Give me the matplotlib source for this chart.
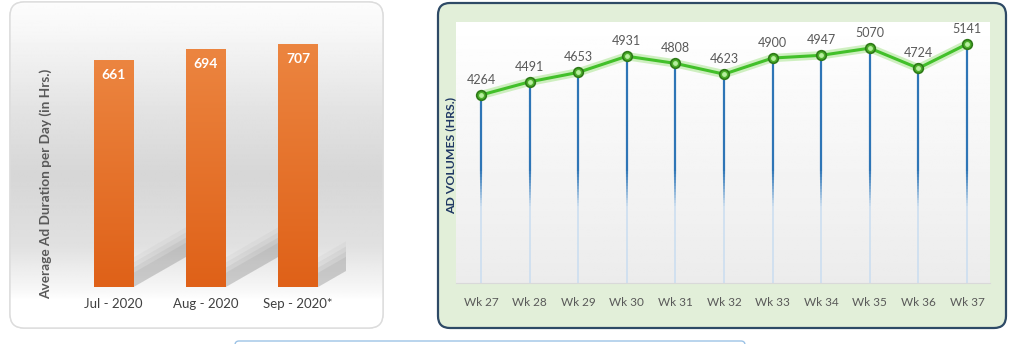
import numpy as np
import matplotlib.pyplot as plt
import matplotlib.colors as mcolors
from matplotlib.patches import FancyBboxPatch, Polygon

plt.rcParams["font.family"] = ["Lato", "DejaVu Sans"]

# ============================================================
# Dados
# ============================================================

meses = ["Jul - 2020", "Aug - 2020", "Sep - 2020*"]
duracao_media = [661, 694, 707]

semanas = ["Wk 27", "Wk 28", "Wk 29", "Wk 30", "Wk 31", "Wk 32",
           "Wk 33", "Wk 34", "Wk 35", "Wk 36", "Wk 37"]
volumes = [4264, 4491, 4653, 4931, 4808, 4623, 4900, 4947, 5070, 4724, 5141]

W, H = 1024, 344
fig = plt.figure(figsize=(W / 100, H / 100), dpi=100)


def eixo_px(esq, topo, dir, base):
    # eixo posicionado em pixels da figura
    return fig.add_axes([esq / W, 1 - base / H, (dir - esq) / W, (base - topo) / H])


# ============================================================
# Fundo: caixas arredondadas
# ============================================================

fundo = eixo_px(0, 0, W, H)
fundo.set_xlim(0, W)
fundo.set_ylim(H, 0)
fundo.axis("off")

caixa_esq = FancyBboxPatch((10, 2), 373, 326, boxstyle="round,pad=0,rounding_size=14",
                           fc="white", ec="#dcdcdc", lw=1, zorder=1)
fundo.add_patch(caixa_esq)

yy = np.arange(2, 329)
tons = np.interp(yy, [2, 30, 110, 175, 245, 290, 300, 329],
                 [0.99, 0.97, 0.89, 0.84, 0.88, 0.97, 1.0, 1.0])
grad_esq = np.repeat(tons[:, None], 2, axis=1)
img = fundo.imshow(grad_esq, extent=(10, 383, 328, 2), cmap="gray", vmin=0, vmax=1,
                   aspect="auto", zorder=2)
img.set_clip_path(caixa_esq)
fundo.add_patch(FancyBboxPatch((10, 2), 373, 326, boxstyle="round,pad=0,rounding_size=14",
                               fc="none", ec="#dcdcdc", lw=1, zorder=3))

fundo.add_patch(FancyBboxPatch((438, 3), 568, 325, boxstyle="round,pad=0,rounding_size=12",
                               fc="#E2EFD9", ec="#2E4A66", lw=1.6, zorder=1))

tons_dir = np.linspace(1.0, 0.925, 100)
grad_dir = np.repeat(tons_dir[:, None], 2, axis=1)
fundo.imshow(grad_dir, extent=(456, 990, 283, 22), cmap="gray", vmin=0, vmax=1,
             aspect="auto", zorder=2)

fundo.add_patch(FancyBboxPatch((235, 341), 510, 20, boxstyle="round,pad=0,rounding_size=4",
                               fc="white", ec="#9DC3E6", lw=1, zorder=1))

# ============================================================
# Gráfico de barras (esquerda)
# ============================================================

ax1 = eixo_px(60, 20, 346, 287)
ax1.set_facecolor("none")
passo = 92.25
ax1.set_xlim((60 - 113.5) / passo, (346 - 113.5) / passo)
ax1.set_ylim(0, 267 / 0.343)

x_barras = np.arange(len(meses))
largura = 40 / passo

barras = ax1.bar(x_barras, duracao_media, width=largura, color="#E46C23", zorder=3)

# degradê laranja dentro das barras
c_topo = np.array(mcolors.to_rgb("#EC8540"))
c_base = np.array(mcolors.to_rgb("#DF6118"))
mistura = np.linspace(0, 1, 100)[:, None]
grad_barra = (c_topo * (1 - mistura) + c_base * mistura)[:, None, :]
for barra in barras:
    x0 = barra.get_x()
    im = ax1.imshow(grad_barra, extent=(x0, x0 + barra.get_width(), 0, barra.get_height()),
                    aspect="auto", zorder=4)
    im.set_clip_path(barra)

# sombras diagonais (várias camadas para ficar esfumado)
for i in x_barras:
    xr = i + largura / 2
    for k, a in [(1.15, 0.07), (0.95, 0.10), (0.75, 0.13), (0.55, 0.16)]:
        sombra = Polygon([(xr, 0), (xr, 75 * k), (xr + 0.57, 75 * k + 88), (xr + 0.57, 88)],
                         closed=True, fc="#8c8c8c", ec="none", alpha=a, zorder=2)
        ax1.add_patch(sombra)

for xi, v in zip(x_barras, duracao_media):
    ax1.annotate(str(v), (xi, v), xytext=(0, -15), textcoords="offset pixels",
                 ha="center", va="center", color="white", fontweight="bold",
                 fontsize=10, zorder=6)

ax1.set_xticks(x_barras, meses)
ax1.tick_params(axis="x", length=0, pad=8, labelsize=9.5, labelcolor="#404040")
ax1.set_yticks([])
for lado in ax1.spines.values():
    lado.set_visible(False)

fig.text(46 / W, 1 - 184 / H, "Average Ad Duration per Day (in Hrs.)", rotation=90,
         ha="center", va="center", fontsize=9.8, fontweight="bold", color="#595959")

# ============================================================
# Gráfico de linha (direita)
# ============================================================

ax2 = eixo_px(456, 22, 990, 283)
ax2.set_facecolor("none")
passo2 = 48.6
ax2.set_xlim((456 - 481) / passo2, (990 - 481) / passo2)
ax2.set_ylim(1030, 5520)

x_sem = np.arange(len(semanas))

# hastes azuis com degradê
azul_escuro = np.array(mcolors.to_rgb("#2E75B6"))
azul_claro = np.array(mcolors.to_rgb("#C9DDF0"))
ax2.vlines(x_sem, 2950, volumes, color="#2E75B6", lw=1.6, zorder=2)
niveis = np.linspace(2950, 2300, 14)
for j in range(len(niveis) - 1):
    t = (j + 1) / (len(niveis) - 1)
    cor = azul_escuro * (1 - t) + azul_claro * t
    ax2.vlines(x_sem, niveis[j + 1], niveis[j], color=cor, lw=1.6 - 0.5 * t, zorder=2)
ax2.vlines(x_sem, 1030, 2300, color="#C9DDF0", lw=1.1, zorder=2)

ax2.plot(x_sem, volumes, color="#A9E58F", lw=6, alpha=0.55, solid_capstyle="round", zorder=3)
ax2.plot(x_sem, volumes, color="#42C02A", lw=2.2, zorder=4)
ax2.scatter(x_sem, volumes, s=48, color="#4CAF2A", edgecolors="#2E7A18", linewidths=1.2, zorder=5)
ax2.scatter(x_sem, volumes, s=6, color="#B8EFA0", zorder=6)

for xi, v in zip(x_sem, volumes):
    ax2.annotate(str(v), (xi, v), xytext=(0, 15), textcoords="offset pixels",
                 ha="center", va="center", color="#595959", fontsize=9)

ax2.set_xticks(x_sem, semanas)
ax2.tick_params(axis="x", length=0, pad=10, labelsize=8.5, labelcolor="#595959")
ax2.set_yticks([])
for lado in ["top", "right", "left"]:
    ax2.spines[lado].set_visible(False)
ax2.spines["bottom"].set_color("#d9d9d9")

fig.text(451 / W, 1 - 155 / H, "AD VOLUMES (HRS.)", rotation=90,
         ha="center", va="center", fontsize=8.8, fontweight="bold", color="#1F3864")

fig.savefig("out.png", dpi=100)
